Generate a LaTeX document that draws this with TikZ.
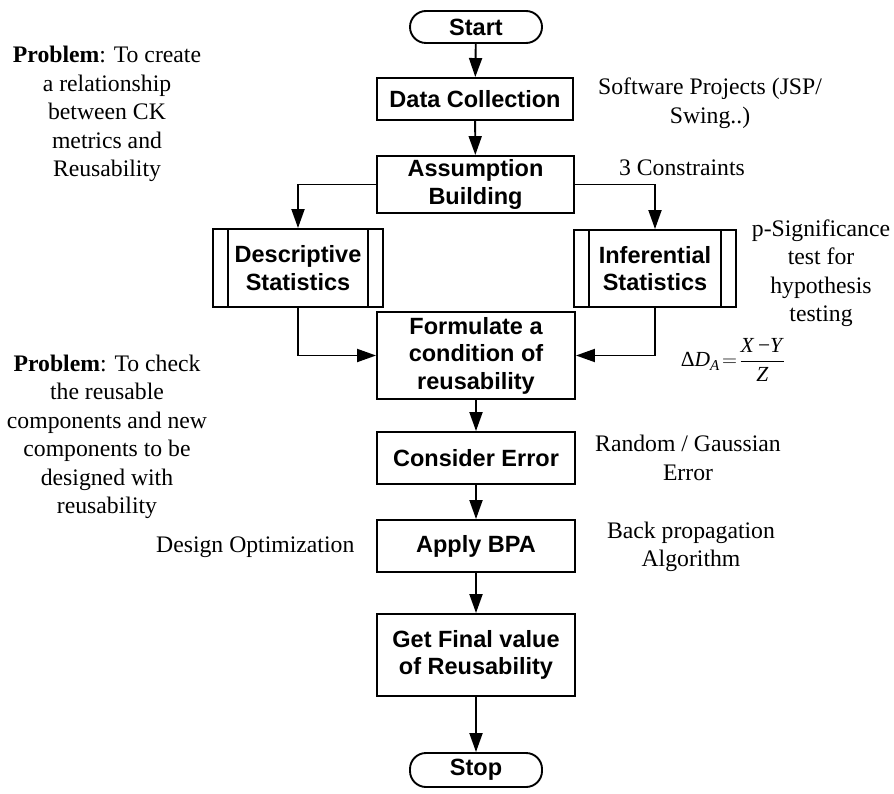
\documentclass[tikz,border=0pt]{standalone}
\usepackage{fontspec}
\usepackage{amsmath}
\setmainfont{Liberation Serif}
\setsansfont{Liberation Sans}
\usetikzlibrary{arrows.meta}
\begin{document}
\begin{tikzpicture}[x=1pt,y=-1pt,
  box/.style={draw, line width=1.9pt, inner sep=0pt, align=center,
    font=\sffamily\bfseries\fontsize{23.5}{27.5}\selectfont},
  term/.style={box, rounded corners=16pt},
  note/.style={align=center, inner sep=0pt, font=\fontsize{23.7}{28.5}\selectfont},
  arr/.style={line width=1.9pt, -{Triangle[length=19pt,width=13pt]}},
  bar/.style={line width=1.9pt}]
\useasboundingbox (0,0) rectangle (894,794);
% main boxes
\node[term, minimum width=132pt, minimum height=32pt] (start) at (476,27) {Start};
\node[box, minimum width=196pt, minimum height=42pt] (data) at (475,99) {Data Collection};
\node[box, minimum width=197pt, minimum height=57pt] (assump) at (475.5,184.5) {Assumption\\Building};
\node[box, minimum width=170pt, minimum height=78pt] (desc) at (298,268) {Descriptive\\Statistics};
\node[box, minimum width=162pt, minimum height=77pt] (infer) at (655,268.5) {Inferential\\Statistics};
\node[box, minimum width=198pt, minimum height=87pt] (form) at (476,355.5) {Formulate a\\condition of\\reusability};
\node[box, minimum width=198pt, minimum height=52pt] (cons) at (476,458) {Consider Error};
\node[box, minimum width=198pt, minimum height=52pt] (bpa) at (476,546) {Apply BPA};
\node[box, minimum width=198pt, minimum height=82pt] (final) at (476,655) {Get Final value\\of Reusability};
\node[term, minimum width=132pt, minimum height=34pt] (stop) at (476,770) {Stop};
% predefined-process bars
\draw[bar] ([xshift=16pt]desc.north west) -- ([xshift=16pt]desc.south west);
\draw[bar] ([xshift=-16pt]desc.north east) -- ([xshift=-16pt]desc.south east);
\draw[bar] ([xshift=16pt]infer.north west) -- ([xshift=16pt]infer.south west);
\draw[bar] ([xshift=-16pt]infer.north east) -- ([xshift=-16pt]infer.south east);
% connectors
\draw[arr] (start) -- (data);
\draw[arr] (data) -- (assump);
\draw[arr] (assump.west) -| (desc.north);
\draw[arr] (assump.east) -| (infer.north);
\draw[arr] (desc.south) |- (form.west);
\draw[arr] (infer.south) |- (form.east);
\draw[arr] (form) -- (cons);
\draw[arr] (cons) -- (bpa);
\draw[arr] (bpa) -- (final);
\draw[arr] (final) -- (stop);
% notes
\node[note] (p1) at (107,114) {\textbf{Problem}: To create\\a relationship\\between CK\\metrics and\\Reusability};
\node[note] (p2) at (107,437) {\textbf{Problem}: To check\\the reusable\\components and new\\components to be\\designed with\\reusability};
\node[note, anchor=west] (dopt) at (156,547) {Design Optimization};
\node[note] (sw) at (710,103) {Software Projects (JSP/\\Swing..)};
\node[note] (c3) at (682,168) {3 Constraints};
\node[note] (psig) at (821,273) {p-Significance\\test for\\hypothesis\\testing};
\node[note, font=\fontsize{21.5}{26}\selectfont] (eq) at (733,360) {$\text{Δ\textit{D}}_{\text{\textit{A}}}\!=\!\dfrac{\text{\textit{X}\,−\textit{Y}}}{\text{\textit{Z}}}$};
\node[note] (rg) at (688,458) {Random / Gaussian\\Error};
\node[note] (bp) at (691,547) {Back propagation\\Algorithm};
\end{tikzpicture}
\end{document}
